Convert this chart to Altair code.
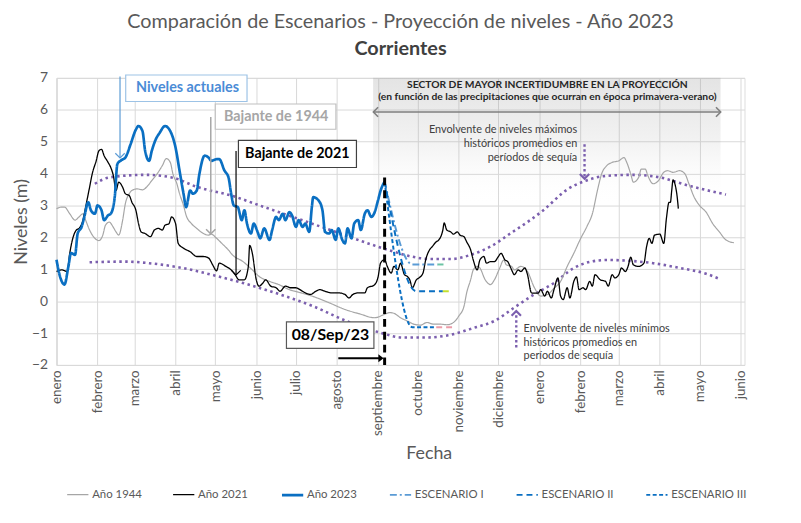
import altair as alt
import pandas as pd

ORIGEN = pd.Timestamp("2023-01-01")

# ---------------- datos (dia desde 01/01/2023 , nivel en m) ----------------
dia_1944 = [0, 4, 6, 10, 14, 17, 20, 22, 25, 29, 32, 35, 37, 40, 42, 45, 47, 50, 52, 55, 57, 61, 65, 69, 72, 76,
            80, 83, 86, 88, 91, 93, 96, 98, 102, 106, 111, 115, 117, 121, 125, 130, 133, 141, 148, 153, 161, 168,
            176, 183, 193, 206, 218, 230, 240, 243, 248, 252, 255, 260, 265, 270, 275, 280, 285, 290, 295, 300,
            304, 308, 310, 313, 315, 318, 320, 324, 328, 331, 335, 338, 340, 344, 346, 351, 356, 361, 366, 371,
            376, 381, 386, 391, 396, 401, 405, 409, 412, 416, 420, 425, 429, 431, 434, 436, 440, 442, 445, 447,
            451, 455, 459, 462, 466, 471, 475, 478, 482, 486, 491, 496, 501, 506, 512]
nivel_1944 = [2.90, 2.95, 2.95, 2.74, 2.54, 2.64, 2.74, 2.54, 2.23, 1.97, 1.90, 2.07, 2.38, 2.48, 2.38, 2.17, 2.07,
              2.54, 3.05, 3.37, 3.47, 3.52, 3.49, 3.62, 3.78, 3.99, 4.25, 4.47, 4.35, 3.99, 3.68, 3.37, 3.00, 2.69,
              2.43, 2.28, 2.12, 2.07, 2.10, 1.97, 1.81, 1.60, 1.45, 1.24, 0.98, 0.78, 0.62, 0.52, 0.36, 0.28, 0.16,
              -0.05, -0.26, -0.41, -0.52, -0.50, -0.41, -0.36, -0.38, -0.52, -0.62, -0.72, -0.75, -0.67, -0.72,
              -0.72, -0.74, -0.67, -0.47, -0.16, 0.26, 0.67, 0.98, 1.09, 1.04, 0.67, 0.52, 0.67, 1.04, 1.29, 1.14,
              1.09, 0.98, 1.09, 0.93, 0.44, 0.16, 0.21, 0.40, 0.62, 1.09, 1.50, 1.95, 2.35, 2.74, 3.50, 3.99, 4.25,
              4.35, 4.40, 4.50, 4.35, 3.99, 3.73, 3.88, 4.14, 4.14, 3.93, 3.68, 3.78, 4.04, 4.09, 4.04, 4.09, 3.99,
              3.68, 3.26, 3.00, 2.79, 2.43, 2.17, 1.92, 1.83]

dia_2021 = [0, 4, 8, 10, 12, 15, 17, 20, 22, 25, 27, 30, 32, 34, 36, 39, 41, 43, 45, 47, 50, 52, 55, 57, 60, 62, 64,
            67, 71, 74, 77, 80, 82, 85, 87, 90, 92, 96, 101, 106, 111, 115, 118, 121, 123, 128, 132, 135, 138, 142,
            145, 146, 148, 151, 153, 156, 158, 162, 166, 169, 173, 177, 181, 184, 188, 192, 196, 199, 203, 208, 213,
            218, 221, 224, 228, 233, 235, 240, 243, 245, 248, 250, 253, 255, 258, 260, 263, 265, 267, 269, 272, 274,
            277, 279, 282, 284, 287, 289, 292, 293, 295, 298, 300, 303, 305, 308, 310, 313, 315, 318, 320, 323, 325,
            328, 331, 334, 336, 339, 341, 344, 346, 349, 351, 354, 356, 359, 361, 364, 366, 369, 371, 374, 376, 379,
            381, 383, 386, 388, 391, 393, 395, 398, 400, 403, 405, 407, 411, 415, 417, 420, 422, 425, 427, 430, 432,
            434, 436, 440, 444, 446, 448, 450, 452, 456, 459, 461, 463, 464, 465, 466, 468, 469, 470]
nivel_2021 = [0.93, 0.98, 0.93, 1.50, 1.92, 2.23, 2.28, 2.54, 2.95, 3.57, 3.99, 4.40, 4.71, 4.76, 4.56, 4.35, 4.19,
              3.93, 3.47, 3.73, 3.57, 3.37, 3.31, 3.10, 2.85, 2.43, 2.17, 2.12, 2.02, 2.23, 2.28, 2.23, 2.38, 2.43,
              2.64, 2.43, 1.81, 1.66, 1.55, 1.40, 1.40, 1.35, 1.14, 0.95, 1.19, 1.09, 0.98, 0.83, 0.67, 0.67, 1.09,
              1.75, 1.50, 0.67, 0.47, 0.57, 0.67, 0.47, 0.42, 0.31, 0.47, 0.42, 0.42, 0.36, 0.26, 0.21, 0.31, 0.36,
              0.31, 0.26, 0.26, 0.21, 0.10, 0.21, 0.26, 0.26, 0.42, 0.50, 0.75, 1.20, 1.30, 1.09, 0.88, 1.09, 0.98,
              1.19, 0.83, 0.78, 0.67, 0.42, 0.67, 0.73, 0.88, 1.29, 1.61, 1.71, 1.86, 1.92, 2.23, 2.45, 2.23, 2.17,
              2.10, 2.17, 2.07, 2.02, 1.86, 1.61, 1.29, 0.98, 1.29, 1.40, 1.19, 1.24, 1.24, 1.40, 1.50, 1.29, 1.24,
              0.98, 0.83, 0.98, 0.93, 1.04, 0.83, 0.26, 0.25, 0.25, 0.36, 0.16, 0.31, 0.10, 0.36, 0.73, 0.16, 0.05,
              0.42, 0.10, 0.62, 0.76, 0.36, 0.42, 0.36, 0.62, 0.47, 0.83, 0.67, 0.62, 0.47, 0.83, 0.73, 0.83, 1.04,
              0.93, 1.09, 1.38, 1.14, 1.09, 1.19, 1.71, 1.97, 1.81, 2.07, 2.10, 1.81, 2.60, 3.10, 3.10, 3.47, 3.80,
              3.57, 3.31, 2.90]

dia_2023 = [0, 2, 6, 9, 11, 14, 16, 19, 21, 24, 26, 29, 31, 34, 36, 39, 41, 44, 46, 49, 52, 56, 60, 62, 65, 67, 70,
            72, 75, 78, 82, 86, 90, 93, 96, 98, 101, 103, 106, 108, 112, 115, 117, 121, 123, 127, 130, 132, 134, 137,
            140, 142, 144, 147, 149, 152, 154, 157, 161, 163, 166, 168, 171, 173, 176, 178, 181, 183, 186, 188, 191,
            193, 194, 198, 201, 203, 206, 208, 211, 213, 216, 218, 220, 223, 225, 228, 230, 233, 235, 238, 240, 243,
            245, 248]
nivel_2023 = [1.30, 0.88, 0.52, 1.09, 1.51, 1.45, 2.12, 2.33, 2.64, 3.10, 2.85, 2.74, 3.00, 2.85, 2.54, 2.69, 2.74,
              3.26, 4.30, 4.42, 4.50, 4.92, 5.38, 5.49, 5.33, 4.71, 4.40, 4.71, 5.07, 5.28, 5.49, 5.33, 4.81, 4.09,
              3.37, 2.95, 3.47, 3.37, 3.47, 3.99, 4.56, 4.50, 4.40, 4.45, 4.45, 4.09, 3.88, 3.37, 3.00, 2.95, 2.54,
              2.85, 2.43, 2.12, 2.43, 2.17, 1.97, 2.28, 1.92, 2.23, 2.64, 2.54, 2.74, 2.54, 2.79, 2.69, 2.33, 2.54,
              2.33, 2.43, 2.17, 2.95, 3.26, 3.16, 2.85, 2.17, 2.12, 2.23, 1.92, 2.28, 1.92, 1.81, 2.28, 1.97, 2.43,
              2.54, 2.23, 2.74, 2.85, 2.64, 2.74, 3.16, 3.47, 3.75]

dia_env_max = [29, 40, 67, 87, 107, 132, 157, 182, 207, 232, 255, 268, 283, 298, 313, 328, 343, 358, 368, 386, 399,
               416, 436, 456, 478, 506]
nivel_env_max = [3.68, 3.88, 3.96, 3.88, 3.57, 3.31, 2.95, 2.59, 2.23, 1.86, 1.55, 1.40, 1.32, 1.32, 1.45, 1.71,
                 2.12, 2.54, 2.85, 3.50, 3.76, 3.93, 3.96, 3.88, 3.62, 3.34]
dia_env_min = [25, 52, 70, 95, 120, 145, 169, 194, 219, 244, 262, 279, 296, 316, 331, 346, 361, 376, 391, 404, 416,
               431, 451, 471, 491, 501]
nivel_env_min = [1.22, 1.24, 1.19, 1.04, 0.80, 0.52, 0.21, -0.16, -0.62, -0.98, -1.14, -1.14, -1.07, -0.83, -0.62,
                 -0.20, 0.21, 0.57, 1.04, 1.24, 1.29, 1.27, 1.19, 1.04, 0.86, 0.70]

dia_esc_1 = [248, 269, 288]
nivel_esc_1 = [3.75, 1.15, 1.15]
dia_esc_2 = [248, 272, 292]
nivel_esc_2 = [3.75, 0.31, 0.31]
dia_esc_3 = [248, 269, 287]
nivel_esc_3 = [3.75, -0.82, -0.82]
# tramo final de cada escenario
dia_fin_esc = [288, 292, 287]
dia_fin_esc2 = [295, 299, 299]
nivel_fin_esc = [1.15, 0.31, -0.82]

dia_corte = 248          # 08/Sep/23
nivel_corte = [3.88, -2.0]

series = ["Año 1944", "Año 2021", "Año 2023", "ESCENARIO I", "ESCENARIO II", "ESCENARIO III"]
meses = ["enero", "febrero", "marzo", "abril", "mayo", "junio", "julio", "agosto", "septiembre",
         "octubre", "noviembre", "diciembre"]


def fechas(dias):
    return ORIGEN + pd.to_timedelta(list(dias), unit="D")


def tabla(nombre, dias, niveles):
    return pd.DataFrame({"serie": nombre, "fecha": fechas(dias), "nivel": niveles,
                         "orden": list(range(len(dias)))})


principal = pd.concat([
    tabla(series[0], dia_1944, nivel_1944),
    tabla(series[1], dia_2021, nivel_2021),
    tabla(series[2], dia_2023, nivel_2023),
    tabla(series[3], dia_esc_1, nivel_esc_1),
    tabla(series[4], dia_esc_2, nivel_esc_2),
    tabla(series[5], dia_esc_3, nivel_esc_3),
], ignore_index=True)

envolventes = pd.concat([
    tabla("max", dia_env_max, nivel_env_max),
    tabla("min", dia_env_min, nivel_env_min),
], ignore_index=True)

fin_esc = pd.DataFrame({"fecha": fechas(dia_fin_esc), "fecha2": fechas(dia_fin_esc2),
                        "nivel": nivel_fin_esc, "col": ["#6cc4a4", "#c4e02c", "#ec9ca8"]})

# ---------------- escalas y ejes ----------------
FONT = "Lato"
xscale = alt.Scale(domain=[alt.DateTime(year=2023, month=1, date=1), alt.DateTime(year=2024, month=6, date=4)])
yscale = alt.Scale(domain=[-2, 7], nice=False)
valores_x = [alt.DateTime(year=2023 + m // 12, month=m % 12 + 1, date=1) for m in range(18)]
lista = ",".join("'%s'" % m for m in meses)
xaxis = alt.Axis(title="Fecha", values=valores_x, labelExpr="[" + lista + "][month(datum.value)]",
                 labelAngle=270, labelFontSize=13.5, labelColor="#595959", labelPadding=5,
                 titleFontSize=18, titleColor="#595959", titleFontWeight="normal", titlePadding=9,
                 titleX=376, titleAlign="center", titleAnchor="start",
                 grid=True, gridColor="#d9d9d9", domainColor="#d9d9d9", ticks=False,
                 labelFont=FONT, titleFont=FONT, labelOverlap=False)
yaxis = alt.Axis(title="Niveles (m)", values=list(range(-2, 8)), labelFontSize=14, labelColor="#595959",
                 labelPadding=9, titleFontSize=18, titleColor="#595959", titleFontWeight="normal",
                 titlePadding=1, grid=True, gridColor="#d9d9d9", domainColor="#d9d9d9", ticks=False,
                 labelFont=FONT, titleFont=FONT)


def X(campo="fecha"):
    return alt.X(campo + ":T", scale=xscale, axis=xaxis)


def Y(campo="nivel"):
    return alt.Y(campo + ":Q", scale=yscale, axis=yaxis)


# ---------------- anotaciones ----------------
sombra = pd.DataFrame({"fecha": fechas([239.3]), "fecha2": fechas([501.9]), "nivel": [7.0], "nivel2": [3.0]})
sombra_l = alt.Chart(sombra).mark_rect(
    color=alt.Gradient(gradient="linear", x1=0, x2=0, y1=0, y2=1,
                       stops=[alt.GradientStop(color="rgba(150,150,150,0.26)", offset=0),
                              alt.GradientStop(color="rgba(150,150,150,0.12)", offset=0.5),
                              alt.GradientStop(color="rgba(255,255,255,0)", offset=1)])
).encode(x=X(), x2="fecha2:T", y=Y(), y2="nivel2:Q")

env_l = alt.Chart(envolventes).mark_line(interpolate="monotone", color="#7b5fae", strokeWidth=2.6,
                                         strokeDash=[2.5, 3.5]).encode(
    x=X(), y=Y(), detail="serie:N", order="orden:Q")

leyenda = alt.Legend(title=None, orient="none", legendX=9, legendY=409, direction="horizontal", columns=6,
                     columnPadding=28, symbolType="stroke", symbolSize=460, labelFontSize=11.5,
                     labelColor="#595959", labelFont=FONT, labelOffset=2)
lineas = alt.Chart(principal).mark_line(interpolate="monotone").encode(
    x=X(), y=Y(),
    color=alt.Color("serie:N", scale=alt.Scale(domain=series, range=["#a6a6a6", "#000000", "#0a6fc2",
                                                                     "#5b9bd5", "#0a6fc2", "#0a6fc2"]),
                    legend=leyenda),
    strokeDash=alt.StrokeDash("serie:N", scale=alt.Scale(domain=series, range=[[1, 0], [1, 0], [1, 0],
                                                                               [7, 3, 2, 3], [6, 4], [4, 2.5]]),
                              legend=leyenda),
    strokeWidth=alt.StrokeWidth("serie:N", scale=alt.Scale(type="ordinal", domain=series,
                                                           range=[1.2, 1.3, 2.7, 2, 2, 2]),
                                legend=leyenda),
    order="orden:Q")

fin_l = alt.Chart(fin_esc).mark_rule(strokeWidth=2, strokeDash=[6, 4]).encode(
    x=X(), x2="fecha2:T", y=Y(), color=alt.Color("col:N", scale=None))

corte = pd.DataFrame({"fecha": fechas([dia_corte]), "nivel": [nivel_corte[0]], "nivel2": [nivel_corte[1]]})
corte_l = alt.Chart(corte).mark_rule(color="black", strokeWidth=3, strokeDash=[8, 5]).encode(
    x=X(), y=Y(), y2="nivel2:Q")

flechas = pd.DataFrame({
    "fecha": fechas([48, 116.6, 135.7, 213, 239.5, 399.1, 347.5]),
    "fecha2": fechas([48, 116.6, 135.7, 245.5, 502, 399.1, 347.5]),
    "nivel": [7.04, 5.77, 4.71, -1.79, 5.93, 4.92, -1.45],
    "nivel2": [4.52, 2.14, 0.85, -1.79, 5.93, 3.88, -0.35],
    "col": ["#5b9bd5", "#a6a6a6", "#000000", "#000000", "#7f7f7f", "#7b5fae", "#7b5fae"],
    "ancho": [1.2, 1.5, 1.2, 2.2, 1.6, 2.4, 2.4],
    "tipo": ["s", "s", "s", "s", "s", "d", "d"],
})
flechas_s = alt.Chart(flechas[flechas.tipo == "s"]).mark_rule().encode(
    x=X(), x2="fecha2:T", y=Y(), y2="nivel2:Q", color=alt.Color("col:N", scale=None),
    strokeWidth=alt.StrokeWidth("ancho:Q", scale=None))
flechas_d = alt.Chart(flechas[flechas.tipo == "d"]).mark_rule(strokeDash=[2.5, 2.5]).encode(
    x=X(), x2="fecha2:T", y=Y(), y2="nivel2:Q", color=alt.Color("col:N", scale=None),
    strokeWidth=alt.StrokeWidth("ancho:Q", scale=None))

ABAJO = "M-1,-1L0,0L1,-1"
ARRIBA = "M-1,1L0,0L1,1"
DER = "M-1,-1L0,0L-1,1"
IZQ = "M1,-1L0,0L1,1"
puntas = pd.DataFrame({
    "fecha": fechas([48, 116.6, 135.7, 239.5, 502, 399.1, 347.5]),
    "nivel": [4.49, 2.11, 0.82, 5.93, 5.93, 3.84, -0.31],
    "forma": [ABAJO, ABAJO, ABAJO, IZQ, DER, ABAJO, ARRIBA],
    "col": ["#5b9bd5", "#a6a6a6", "#000000", "#7f7f7f", "#7f7f7f", "#7b5fae", "#7b5fae"],
    "ancho": [1.2, 1.5, 1.2, 1.6, 1.6, 2.2, 2.2],
})
puntas_l = alt.Chart(puntas).mark_point(size=90, opacity=1).encode(
    x=X(), y=Y(), shape=alt.Shape("forma:N", scale=None), color=alt.Color("col:N", scale=None),
    strokeWidth=alt.StrokeWidth("ancho:Q", scale=None))
punta_fecha = pd.DataFrame({"fecha": fechas([247.2]), "nivel": [-1.79]})
punta_fecha_l = alt.Chart(punta_fecha).mark_point(shape="M-1,-0.75L0,0L-1,0.75Z", filled=True, size=110,
                                                  color="black", opacity=1).encode(x=X(), y=Y())

cajas = pd.DataFrame({
    "fecha": fechas([52.3, 120, 137.5, 173.8]),
    "fecha2": fechas([144, 211.2, 226.7, 239.9]),
    "nivel": [7.09, 6.18, 5.04, -0.65],
    "nivel2": [6.26, 5.39, 4.19, -1.48],
    "col": ["#9dc3e6", "#bfbfbf", "#404040", "#595959"],
})
cajas_l = alt.Chart(cajas).mark_rect(fill="white", strokeWidth=1.2).encode(
    x=X(), x2="fecha2:T", y=Y(), y2="nivel2:Q", stroke=alt.Stroke("col:N", scale=None))

rotulos = pd.DataFrame({
    "fecha": fechas([99, 166, 182, 207]),
    "nivel": [6.67, 5.78, 4.61, -1.07],
    "texto": ["Niveles actuales", "Bajante de 1944", "Bajante de 2021", "08/Sep/23"],
    "col": ["#4a8bd6", "#a6a6a6", "#000000", "#000000"],
    "tam": [14.5, 14.5, 14.5, 16],
})
rotulos_l = alt.Chart(rotulos).mark_text(fontWeight="bold", font=FONT, baseline="middle", align="center").encode(
    x=X(), y=Y(), text="texto:N", color=alt.Color("col:N", scale=None), size=alt.Size("tam:Q", scale=None))

sector = pd.DataFrame({
    "fecha": fechas([371, 371]),
    "nivel": [6.76, 6.39],
    "texto": ["SECTOR DE MAYOR INCERTIDUMBRE EN LA PROYECCIÓN",
              "(en función de las precipitaciones que ocurran  en época primavera-verano)"],
})
sector_l = alt.Chart(sector).mark_text(fontWeight="bold", font=FONT, fontSize=10.4, color="#262626",
                                       baseline="middle", align="center").encode(x=X(), y=Y(), text="texto:N")

env_max_txt = pd.DataFrame({
    "fecha": fechas([393.6] * 3),
    "nivel": [5.35, 4.92, 4.50],
    "texto": ["Envolvente de niveles máximos", "históricos promedios en", "períodos de sequía"],
})
env_min_txt = pd.DataFrame({
    "fecha": fechas([353] * 3),
    "nivel": [-0.86, -1.31, -1.73],
    "texto": ["Envolvente de niveles mínimos", "históricos promedios en", "períodos de sequía"],
})
env_max_txt_l = alt.Chart(env_max_txt).mark_text(font=FONT, fontSize=11, color="#404040", baseline="middle",
                                                 align="right").encode(x=X(), y=Y(), text="texto:N")
env_min_txt_l = alt.Chart(env_min_txt).mark_text(font=FONT, fontSize=11, color="#404040", baseline="middle",
                                                 align="left").encode(x=X(), y=Y(), text="texto:N")

chart = alt.layer(
    sombra_l, env_l, lineas, fin_l, corte_l, flechas_s, flechas_d, puntas_l, punta_fecha_l,
    cajas_l, rotulos_l, sector_l, env_max_txt_l, env_min_txt_l
).properties(
    width=695, height=290,
    autosize=alt.AutoSizeParams(type="none"),
    padding={"left": 49, "top": 68, "right": 49, "bottom": 149},
    title=alt.TitleParams(
        text="Comparación de Escenarios - Proyección de niveles - Año 2023",
        subtitle="Corrientes", anchor="middle", font=FONT, fontSize=20, fontWeight="normal",
        color="#595959", subtitleFont=FONT, subtitleFontSize=20, subtitleFontWeight="bold",
        subtitleColor="#404040", offset=12, subtitlePadding=7)
).configure_view(stroke=None).configure(background="white")

chart.save("out.html", embed_options={"renderer": "svg", "actions": False})
